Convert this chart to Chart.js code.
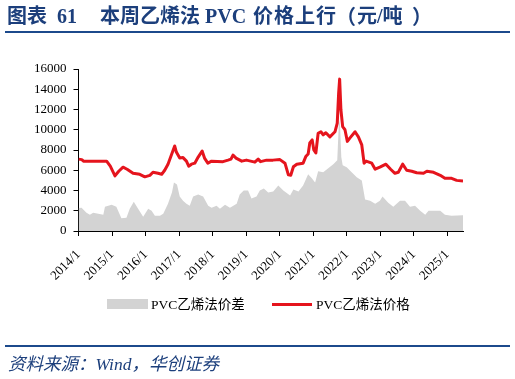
<!DOCTYPE html>
<html>
<head>
<meta charset="utf-8">
<script src="https://cdn.jsdelivr.net/npm/chart.js@4"></script>
<style>
  html,body{margin:0;padding:0;background:#fff;}
  #wrap{position:relative;width:515px;height:379px;overflow:hidden;background:#fff;}
  canvas{position:absolute;left:0;top:0;}
  .t{position:absolute;top:6px;white-space:nowrap;color:#1c3f7c;font-weight:bold;font-size:20px;line-height:20px;font-family:"Liberation Serif","Noto Sans CJK SC",serif;}
  .rule{position:absolute;left:5px;width:505px;height:2px;background:#1c4a8c;}
  .src{position:absolute;left:8px;top:355px;font-size:17.5px;line-height:18px;color:#1c3f7c;font-style:italic;font-family:"Liberation Serif","Noto Sans CJK SC",serif;white-space:nowrap;}
  .lg{position:absolute;font-size:13.5px;line-height:14px;color:#000;font-family:"Liberation Serif","Noto Sans CJK SC",serif;white-space:nowrap;}
</style>
</head>
<body>
<div id="wrap">
  <canvas id="c" width="515" height="379"></canvas>
  <div class="t" style="left:7px;">图表</div>
  <div class="t" style="left:57px;">61</div>
  <div class="t" style="left:100px;">本周乙烯法</div>
  <div class="t" style="left:205px;">PVC</div>
  <div class="t" style="left:253px;letter-spacing:1px;">价格上行</div>
  <div class="t" style="left:336px;font-family:'Noto Sans CJK SC';">（</div>
  <div class="t" style="left:357px;">元/吨</div>
  <div class="t" style="left:412px;font-family:'Noto Sans CJK SC';">）</div>
  <div class="rule" style="top:31px;"></div>
  <div style="position:absolute;left:107px;top:299px;width:41px;height:10px;background:#d3d3d3;"></div>
  <div class="lg" style="left:151px;top:298px;">PVC乙烯法价差</div>
  <div style="position:absolute;left:272px;top:303px;width:40px;height:3px;background:#e5141d;"></div>
  <div class="lg" style="left:316px;top:298px;">PVC乙烯法价格</div>
  <div class="rule" style="top:345px;"></div>
  <div class="src">资料来源：Wind，华创证券</div>
</div>
<script>
// ---- data ----
const priceDates = [
 '2014-01-01','2014-02-06','2014-02-24','2014-07-02','2014-11-03','2014-12-13',
 '2015-02-02','2015-03-15','2015-05-01','2015-06-14','2015-08-18','2015-10-30','2015-12-24',
 '2016-02-17','2016-03-22','2016-05-16','2016-06-25','2016-07-28','2016-09-02','2016-10-09','2016-11-14','2016-12-02',
 '2017-01-08','2017-02-13','2017-03-22','2017-04-16','2017-05-16','2017-06-21','2017-07-28','2017-09-09','2017-10-05','2017-11-10','2017-12-21',
 '2018-04-24','2018-06-18','2018-07-20','2018-08-11','2018-09-13','2018-11-14',
 '2019-01-04','2019-04-06','2019-05-12','2019-06-07','2019-08-11','2019-10-20',
 '2020-01-04','2020-02-28','2020-04-05','2020-05-01','2020-05-30','2020-07-06','2020-09-13','2020-10-12','2020-11-07','2020-11-25','2020-12-21',
 '2021-01-08','2021-01-30','2021-02-24','2021-03-26','2021-04-20','2021-05-19','2021-07-02','2021-08-26','2021-09-20','2021-10-05','2021-10-16','2021-10-30','2021-11-18','2021-12-13',
 '2022-01-08','2022-02-06','2022-04-02','2022-05-08','2022-06-14','2022-07-09','2022-07-31','2022-10-01','2022-11-07','2022-12-28',
 '2023-03-04','2023-04-24','2023-06-10','2023-07-17','2023-09-02','2023-10-16','2023-12-10',
 '2024-02-02','2024-04-16','2024-05-23','2024-08-04','2024-10-16','2024-12-06',
 '2025-02-17','2025-04-13','2025-06-21'
];
const priceValues = [
 7100,7050,6900,6900,6900,6400,
 5450,5900,6300,6100,5700,5600,5350,
 5500,5800,5700,5600,6000,6600,7500,8400,7800,
 7200,7250,6900,6400,6600,6700,7300,7900,7200,6700,6900,
 6850,7000,7100,7500,7200,6900,
 7000,6800,7100,6850,7000,7000,
 7050,6700,5550,5500,6350,6600,6700,7350,7600,8700,9000,
 8000,7700,9650,9800,9500,9700,9300,9800,10650,13600,15000,11950,10300,10000,
 8850,9200,9800,9300,8500,6700,6900,6700,6100,6300,
 6600,6100,5700,5800,6600,6000,5900,
 5750,5700,5900,5800,5500,5200,
 5200,5000,4950
];
const spreadDates = [
 '2014-01-01','2014-02-03','2014-03-29','2014-05-05','2014-06-10','2014-08-04','2014-09-28','2014-10-16','2014-12-28',
 '2015-02-17','2015-04-13','2015-06-07','2015-07-13','2015-08-26','2015-10-12','2015-12-06',
 '2016-01-30','2016-03-07','2016-04-12','2016-06-06','2016-07-12','2016-09-02','2016-10-15','2016-11-06','2016-12-09',
 '2017-01-08','2017-02-13','2017-03-22','2017-04-27','2017-06-03','2017-07-28','2017-09-20','2017-11-14','2017-12-21',
 '2018-02-13','2018-03-22','2018-05-16','2018-07-09','2018-09-20','2018-10-23','2018-12-06',
 '2019-01-22','2019-02-28','2019-04-24','2019-05-30','2019-07-13','2019-08-29','2019-10-23','2019-12-17',
 '2020-02-10','2020-04-24','2020-05-30','2020-07-24','2020-09-13','2020-11-07','2020-12-17',
 '2021-01-22','2021-02-24','2021-04-20','2021-06-14','2021-08-08','2021-09-20','2021-10-09','2021-10-20','2021-11-03','2021-11-18',
 '2022-01-01','2022-02-24','2022-04-20','2022-06-14','2022-07-20','2022-09-13','2022-11-07','2022-12-28',
 '2023-01-26','2023-03-29','2023-05-23','2023-08-04','2023-09-28','2023-11-21',
 '2024-01-15','2024-03-11','2024-05-05','2024-06-10','2024-08-22','2024-10-16','2024-12-06',
 '2025-02-17','2025-06-21'
];
const spreadValues = [
 2270,2300,1800,1600,1800,1700,1600,2400,2600,
 2400,1250,1300,2200,2900,2200,1400,
 2200,2000,1500,1500,1700,2700,3800,4800,4600,
 3400,3000,2700,2500,3400,3600,3400,2500,2300,
 2500,2200,2600,2300,2700,3600,4000,
 4000,3200,3400,4000,4200,3800,3900,4500,
 4000,3500,4100,3900,4500,5600,5200,
 4800,5900,5800,6200,6600,7000,11000,10500,7300,6500,
 6300,5800,5300,5000,3100,3000,2700,3000,
 3400,2800,2400,3000,3000,2400,
 2500,2000,1600,2000,2000,2000,1600,
 1500,1550
];
const yearTicks = [2014,2015,2016,2017,2018,2019,2020,2021,2022,2023,2024,2025];
const seriesNames = ['PVC乙烯法价差','PVC乙烯法价格'];

function toYear(s){
  const [y,m,d] = s.split('-').map(Number);
  const t = Date.UTC(y,m-1,d), a = Date.UTC(y,0,1), b = Date.UTC(y+1,0,1);
  return y + (t-a)/(b-a);
}
const pts = (ds, vs) => ds.map((d,i)=>({x:toYear(d), y:vs[i]}));

const tickFont = {family:'"Liberation Serif", serif', size:13};
new Chart(document.getElementById('c'), {
  type:'line',
  data:{datasets:[
    {label:seriesNames[1], data:pts(priceDates,priceValues), borderColor:'#e5141d', borderWidth:3,
     pointRadius:0, fill:false, tension:0, borderJoinStyle:'round', order:0},
    {label:seriesNames[0], data:pts(spreadDates,spreadValues), borderWidth:0, borderColor:'rgba(0,0,0,0)',
     backgroundColor:'#d3d3d3', pointRadius:0, fill:'origin', tension:0, order:1}
  ]},
  options:{
    responsive:false, animation:false, devicePixelRatio:1,
    layout:{padding:{top:69,left:0,right:52,bottom:0}},
    plugins:{legend:{display:false}, tooltip:{enabled:false}},
    scales:{
      x:{type:'linear', min:toYear('2014-01-01'), max:toYear('2025-06-21'),
        afterBuildTicks:(s)=>{ s.ticks = yearTicks.map(v=>({value:v})); },
        afterFit:(s)=>{ s.height = 379-231; },
        ticks:{callback:(v)=>v+'/1', minRotation:45, maxRotation:45, autoSkip:false, color:'#000', font:tickFont, padding:11},
        grid:{drawOnChartArea:false, drawTicks:true, tickLength:5, color:'#000'},
        border:{color:'#000', width:1}
      },
      y:{min:0, max:16000,
        afterFit:(s)=>{ s.width = 78.5; },
        ticks:{stepSize:2000, callback:(v)=>String(v), color:'#000', font:tickFont, padding:7},
        grid:{drawOnChartArea:false, drawTicks:true, tickLength:5, color:'#000'},
        border:{color:'#000', width:1}
      }
    }
  }
});
</script>
</body>
</html>
